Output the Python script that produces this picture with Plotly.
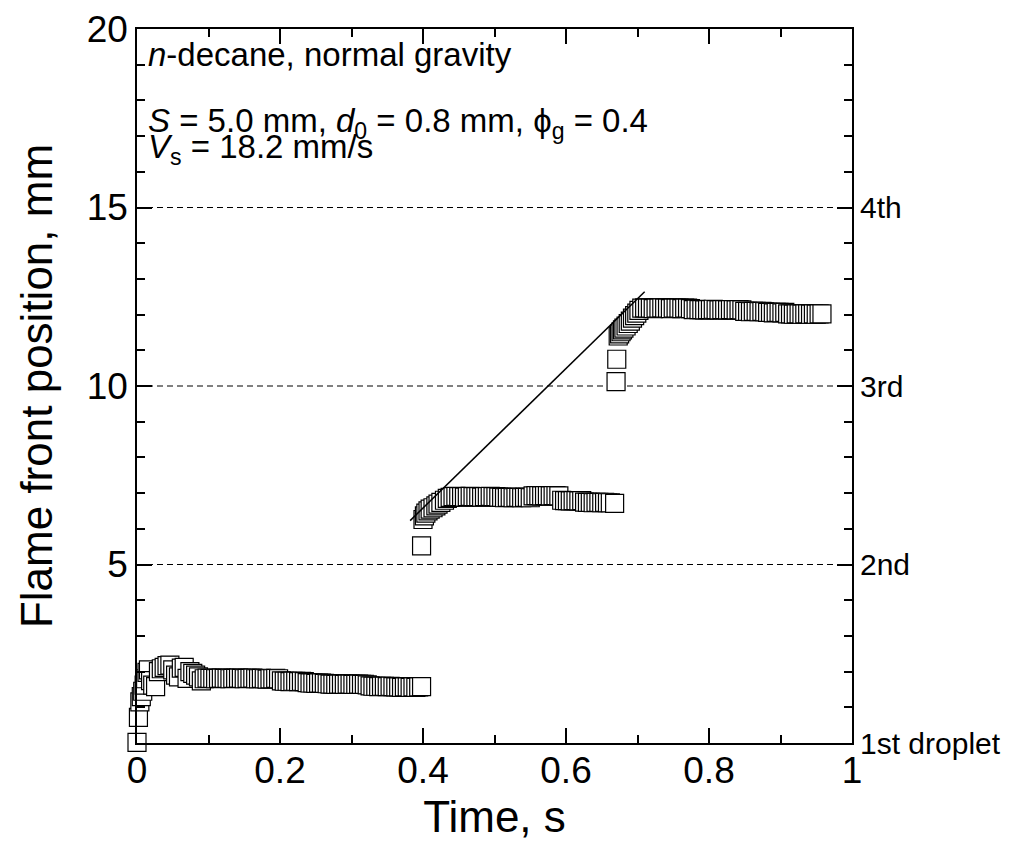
import plotly.graph_objects as go

# ---------------- data ----------------
# segment 1 (1st droplet)
t1 = [0.000, 0.002, 0.004, 0.006, 0.008, 0.010, 0.012, 0.014, 0.016, 0.019,
      0.022, 0.026, 0.030, 0.034, 0.038, 0.042, 0.046, 0.050, 0.054, 0.058,
      0.062, 0.066, 0.070, 0.074, 0.078, 0.082, 0.086, 0.090, 0.094,
      0.098, 0.102, 0.106, 0.110, 0.114, 0.118, 0.122, 0.126, 0.130, 0.134,
      0.138, 0.142, 0.146, 0.150, 0.154, 0.158,
      0.162, 0.166, 0.170, 0.174, 0.178, 0.182, 0.186, 0.190, 0.194, 0.198,
      0.202, 0.206, 0.210, 0.214, 0.218, 0.222, 0.226, 0.230, 0.234,
      0.238, 0.242, 0.246, 0.250, 0.254, 0.258, 0.262,
      0.266, 0.270, 0.274, 0.278, 0.282, 0.286, 0.290, 0.294, 0.298, 0.302,
      0.306, 0.310, 0.314, 0.318, 0.322,
      0.326, 0.330, 0.334, 0.338, 0.342, 0.346, 0.350, 0.354, 0.358,
      0.362, 0.366, 0.370, 0.374, 0.378, 0.382, 0.386, 0.390, 0.394,
      0.398]
y1 = [0.02, 0.72, 1.15, 1.30, 1.45, 1.62, 1.80, 1.98, 2.05, 1.75,
      1.62, 1.58, 2.00, 2.08, 2.12, 2.17, 2.18, 2.05, 1.90, 1.85,
      2.10, 2.12, 1.81, 2.00, 1.95, 1.90, 1.85, 1.74, 1.80,
      1.82, 1.81, 1.81, 1.80, 1.81, 1.82, 1.81, 1.81, 1.80, 1.81,
      1.81, 1.82, 1.81, 1.80, 1.81, 1.81,
      1.82, 1.80, 1.80, 1.81, 1.80, 1.79, 1.80, 1.80, 1.81, 1.80,
      1.74, 1.73, 1.73, 1.72, 1.73, 1.73, 1.72, 1.73, 1.72,
      1.69, 1.68, 1.68, 1.67, 1.68, 1.68, 1.67,
      1.66, 1.65, 1.65, 1.64, 1.65, 1.65, 1.64, 1.65, 1.65, 1.64,
      1.64, 1.65, 1.64, 1.64, 1.63,
      1.60, 1.59, 1.59, 1.58, 1.59, 1.59, 1.58, 1.59, 1.58,
      1.57, 1.57, 1.56, 1.57, 1.57, 1.56, 1.57, 1.56, 1.57,
      1.58]

# segment 2 (2nd droplet)
t2 = [0.398, 0.400, 0.402, 0.404, 0.407, 0.410, 0.414, 0.418, 0.421, 0.425,
      0.430, 0.434, 0.438,
      0.442, 0.446, 0.450, 0.454, 0.458, 0.462, 0.466, 0.470, 0.474, 0.478,
      0.482, 0.486, 0.490, 0.494, 0.498, 0.502, 0.506,
      0.510, 0.514, 0.518, 0.522, 0.526, 0.530, 0.534, 0.538, 0.542, 0.546, 0.550,
      0.554, 0.558, 0.562, 0.566, 0.570, 0.574, 0.578, 0.582, 0.586, 0.590,
      0.594, 0.598, 0.602, 0.606, 0.610, 0.614, 0.618, 0.622,
      0.626, 0.630, 0.634, 0.638, 0.642, 0.646, 0.650, 0.654, 0.658, 0.662,
      0.668]
y2 = [5.52, 6.26, 6.36, 6.44, 6.50, 6.55, 6.59, 6.64, 6.69, 6.74,
      6.80, 6.85, 6.88,
      6.90, 6.91, 6.90, 6.90, 6.89, 6.90, 6.91, 6.90, 6.90, 6.90,
      6.89, 6.90, 6.90, 6.91, 6.90, 6.90, 6.89,
      6.88, 6.87, 6.88, 6.88, 6.87, 6.88, 6.88, 6.87, 6.88, 6.88, 6.87,
      6.92, 6.93, 6.93, 6.92, 6.93, 6.93, 6.92, 6.93, 6.93, 6.92,
      6.80, 6.79, 6.79, 6.78, 6.79, 6.79, 6.78, 6.79,
      6.75, 6.74, 6.74, 6.73, 6.74, 6.74, 6.73, 6.74, 6.73, 6.73,
      6.71]

# segment 3 (3rd droplet)
t3 = [0.670, 0.671, 0.673, 0.675, 0.677, 0.679, 0.681, 0.684, 0.687, 0.690,
      0.693, 0.696, 0.699, 0.702,
      0.706, 0.710, 0.714, 0.718, 0.722, 0.726, 0.730, 0.734, 0.738, 0.742,
      0.746, 0.750, 0.754, 0.758, 0.762, 0.766, 0.770, 0.774,
      0.778, 0.782, 0.786, 0.790, 0.794, 0.798, 0.802, 0.806, 0.810, 0.814,
      0.818, 0.822, 0.826, 0.830, 0.834, 0.838, 0.842, 0.846,
      0.850, 0.854, 0.858, 0.862, 0.866, 0.870, 0.874, 0.878,
      0.882, 0.886, 0.890, 0.894, 0.898, 0.902, 0.906,
      0.910, 0.914, 0.918, 0.922, 0.926, 0.930, 0.934, 0.938, 0.942, 0.946,
      0.950, 0.954,
      0.958]
y3 = [10.12, 10.75, 11.40, 11.46, 11.52, 11.57, 11.62, 11.68, 11.75, 11.82,
      11.90, 11.97, 12.04, 12.12,
      12.18, 12.19, 12.18, 12.18, 12.17, 12.18, 12.18, 12.19, 12.18, 12.18,
      12.17, 12.18, 12.18, 12.18, 12.17, 12.18, 12.18, 12.17,
      12.14, 12.15, 12.14, 12.14, 12.13, 12.14, 12.14, 12.15, 12.14, 12.13,
      12.14, 12.14, 12.13, 12.14, 12.14, 12.13, 12.14, 12.13,
      12.09, 12.09, 12.08, 12.09, 12.09, 12.08, 12.09, 12.08,
      12.06, 12.06, 12.05, 12.06, 12.06, 12.05, 12.06,
      12.02, 12.02, 12.01, 12.02, 12.02, 12.01, 12.02, 12.02, 12.01, 12.02,
      12.01, 12.02,
      12.02]

# fitted spread line (V_s)
fit_t = [0.382, 0.710]
fit_y = [6.23, 12.64]

# droplet positions (dashed lines + right labels)
droplet_pos = [0, 5, 10, 15]
droplet_labels = ["1st droplet", "2nd", "3rd", "4th"]

x_ticks = [0, 0.2, 0.4, 0.6, 0.8, 1.0]
x_ticktext = ["0", "0.2", "0.4", "0.6", "0.8", "1"]
y_ticks = [5, 10, 15, 20]
y_ticktext = ["5", "10", "15", "20"]

FONT = "Liberation Sans, Arial, sans-serif"

fig = go.Figure()

marker = dict(symbol="square", size=18, color="white",
              line=dict(color="black", width=1.2))
for tt, yy in [(t1, y1), (t2, y2), (t3, y3)]:
    fig.add_trace(go.Scatter(x=tt, y=yy, mode="markers", marker=marker,
                             cliponaxis=False, showlegend=False))

fig.add_trace(go.Scatter(x=fit_t, y=fit_y, mode="lines",
                         line=dict(color="black", width=1.5),
                         showlegend=False))

for p in droplet_pos[1:]:
    fig.add_shape(type="line", xref="x", yref="y", x0=0, x1=1, y0=p, y1=p,
                  line=dict(color="black", width=1, dash="6px,4px"),
                  layer="below")

for p, lab in zip(droplet_pos, droplet_labels):
    fig.add_annotation(x=1, xref="paper", y=p, yref="y", text=lab,
                       showarrow=False, xanchor="left", yanchor="middle",
                       xshift=6, font=dict(size=30, color="black", family=FONT))

ann_font = dict(size=33, color="black", family=FONT)
fig.add_annotation(x=0.012, xref="paper", y=19.29, yref="y",
                   text="<i>n</i>-decane, normal gravity",
                   showarrow=False, xanchor="left", yanchor="middle", font=ann_font)
fig.add_annotation(x=0.012, xref="paper", y=17.38, yref="y",
                   text="<i>S</i> = 5.0 mm, <i>d</i><sub>0</sub> = 0.8 mm, \u03d5<sub>g</sub> = 0.4",
                   showarrow=False, xanchor="left", yanchor="middle", font=ann_font)
fig.add_annotation(x=0.012, xref="paper", y=16.63, yref="y",
                   text="<i>V</i><sub>s</sub> = 18.2 mm/s",
                   showarrow=False, xanchor="left", yanchor="middle", font=ann_font)

axis_common = dict(showline=True, linecolor="black", linewidth=1.5,
                   mirror="allticks", ticks="inside", ticklen=15,
                   tickwidth=1.5, tickcolor="black", showgrid=False,
                   zeroline=False, automargin=False,
                   tickfont=dict(size=37, color="black", family=FONT))

fig.update_xaxes(range=[0, 1], tickmode="array", tickvals=x_ticks,
                 ticktext=x_ticktext, ticklabelstandoff=-6,
                 minor=dict(ticks="inside", ticklen=8, tickwidth=1.5,
                            tickcolor="black", tickmode="linear", tick0=0, dtick=0.1,
                            showgrid=False),
                 title=dict(text="Time, s", font=dict(size=44, color="black", family=FONT),
                            standoff=12),
                 **axis_common)
fig.update_yaxes(range=[0, 20], tickmode="array", tickvals=y_ticks,
                 ticktext=y_ticktext,
                 minor=dict(ticks="inside", ticklen=8, tickwidth=1.5,
                            tickcolor="black", tickmode="linear", tick0=0, dtick=1,
                            showgrid=False),
                 title=dict(text="Flame front position, mm",
                            font=dict(size=44, color="black", family=FONT),
                            standoff=20),
                 **axis_common)

# page body has an 8px margin, so the figure is sized to fit inside it
fig.update_layout(width=1003, height=833, autosize=False,
                  margin=dict(l=129, r=159, t=21, b=98),
                  plot_bgcolor="white", paper_bgcolor="white",
                  font=dict(family=FONT, color="black"))

fig.write_html("out.html")
